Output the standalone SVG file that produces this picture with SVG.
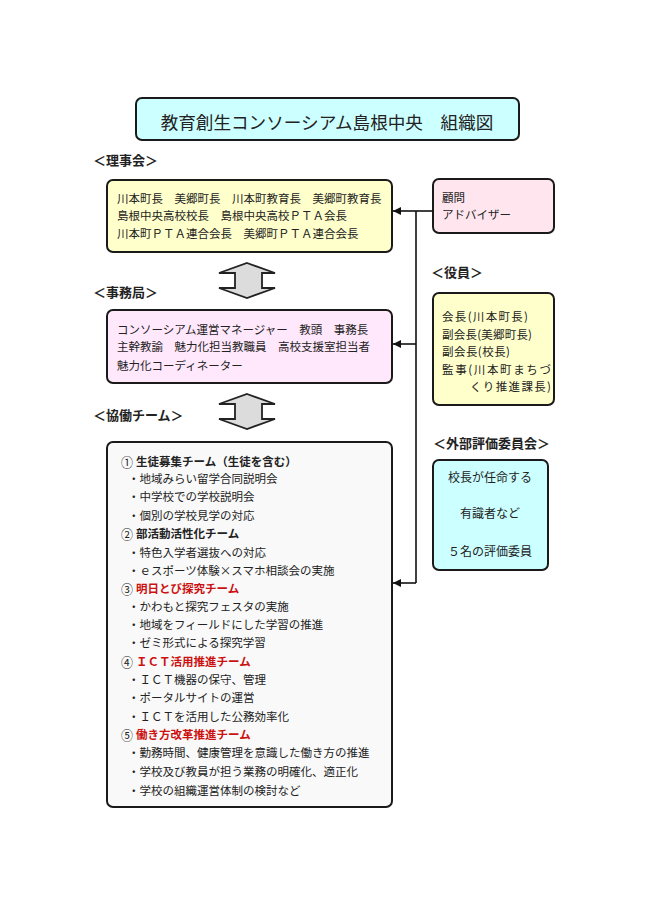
<svg xmlns="http://www.w3.org/2000/svg" width="650" height="918" viewBox="0 0 650 918">
<style>
text{font-family:"Noto Sans CJK JP","Noto Sans",sans-serif;fill:#222}
.box{stroke:#1a1a1a;stroke-width:2}
.t{font-size:11.5px}
.h{font-size:13px;font-weight:bold}
.b{font-size:11.5px;font-weight:bold}
.n{font-size:13px}
.r{fill:#cc1111}
.c{font-size:12px;text-anchor:middle}
.conn{stroke:#111;stroke-width:1.6;fill:none}
.dbl{fill:#dcdcdc;stroke:#222;stroke-width:1.8;stroke-linejoin:miter}
</style>
<defs>
<marker id="ah" viewBox="0 0 10 10" refX="10" refY="5" markerWidth="10" markerHeight="8" markerUnits="userSpaceOnUse" orient="auto">
<path d="M0,0 L10,5 L0,10 z" fill="#111"/>
</marker>
</defs>
<rect width="650" height="918" fill="#fff"/>

<g id="title">
<rect class="box" x="136" y="98" width="383" height="42" rx="6" fill="#ccffff"/>
<text x="327" y="129" font-size="17.6" text-anchor="middle">教育創生コンソーシアム島根中央　組織図</text>
</g>

<g id="rijikai">
<text class="h" x="93" y="165">＜理事会＞</text>
<rect class="box" x="107" y="180" width="285" height="72" rx="6" fill="#ffffcc"/>
<text class="t" x="117" y="203">川本町長　美郷町長　川本町教育長　美郷町教育長</text>
<text class="t" x="117" y="220">島根中央高校校長　島根中央高校ＰＴＡ会長</text>
<text class="t" x="117" y="238">川本町ＰＴＡ連合会長　美郷町ＰＴＡ連合会長</text>
</g>

<g id="arrow1">
<polygon class="dbl" points="247,263 275,273 262,273 262,288 275,288 247,298 219,288 235,288 235,273 219,273"/>
</g>

<g id="jimukyoku">
<text class="h" x="93" y="297">＜事務局＞</text>
<rect class="box" x="107" y="310" width="285" height="73" rx="6" fill="#ffe8fc"/>
<text class="t" x="117" y="334">コンソーシアム運営マネージャー　教頭　事務長</text>
<text class="t" x="117" y="351">主幹教諭　魅力化担当教職員　高校支援室担当者</text>
<text class="t" x="117" y="370">魅力化コーディネーター</text>
</g>

<g id="arrow2">
<polygon class="dbl" points="247,394 275,404 262,404 262,419 275,419 247,429 219,419 235,419 235,404 219,404"/>
</g>

<g id="kyodo">
<text class="h" x="93" y="420">＜協働チーム＞</text>
<rect class="box" x="107" y="442" width="285" height="365" rx="6" fill="#f9f9f9"/>
<text class="n" x="121" y="467" textLength="12" lengthAdjust="spacingAndGlyphs">①</text><text class="b" x="136" y="466">生徒募集チーム（生徒を含む）</text>
<text class="t" x="128" y="483">・地域みらい留学合同説明会</text>
<text class="t" x="128" y="501">・中学校での学校説明会</text>
<text class="t" x="128" y="520">・個別の学校見学の対応</text>
<text class="n" x="121" y="539" textLength="12" lengthAdjust="spacingAndGlyphs">②</text><text class="b" x="136" y="538">部活動活性化チーム</text>
<text class="t" x="128" y="557">・特色入学者選抜への対応</text>
<text class="t" x="128" y="575">・ｅスポーツ体験×スマホ相談会の実施</text>
<text class="n" x="121" y="594" textLength="12" lengthAdjust="spacingAndGlyphs">③</text><text class="b r" x="136" y="593">明日とび探究チーム</text>
<text class="t" x="128" y="611">・かわもと探究フェスタの実施</text>
<text class="t" x="128" y="629">・地域をフィールドにした学習の推進</text>
<text class="t" x="128" y="647">・ゼミ形式による探究学習</text>
<text class="n" x="121" y="667" textLength="12" lengthAdjust="spacingAndGlyphs">④</text><text class="b r" x="136" y="666">ＩＣＴ活用推進チーム</text>
<text class="t" x="128" y="684">・ＩＣＴ機器の保守、管理</text>
<text class="t" x="128" y="702">・ポータルサイトの運営</text>
<text class="t" x="128" y="721">・ＩＣＴを活用した公務効率化</text>
<text class="n" x="121" y="740" textLength="12" lengthAdjust="spacingAndGlyphs">⑤</text><text class="b r" x="136" y="739">働き方改革推進チーム</text>
<text class="t" x="128" y="757">・勤務時間、健康管理を意識した働き方の推進</text>
<text class="t" x="128" y="776">・学校及び教員が担う業務の明確化、適正化</text>
<text class="t" x="128" y="795">・学校の組織運営体制の検討など</text>
</g>

<g id="komon">
<rect class="box" x="433" y="179" width="121" height="54" rx="6" fill="#ffe6ee"/>
<text class="t" x="442" y="202">顧問</text>
<text class="t" x="442" y="219">アドバイザー</text>
</g>

<g id="yakuin">
<text class="h" x="431" y="277">＜役員＞</text>
<rect class="box" x="433" y="293" width="121" height="112" rx="6" fill="#ffffcc"/>
<text class="t" x="442" y="321" textLength="86" lengthAdjust="spacing">会長(川本町長)</text>
<text class="t" x="442" y="339" textLength="90" lengthAdjust="spacing">副会長(美郷町長)</text>
<text class="t" x="442" y="356" textLength="68" lengthAdjust="spacing">副会長(校長)</text>
<text class="t" x="442" y="374" textLength="109" lengthAdjust="spacing">監事(川本町まちづ</text>
<text class="t" x="470" y="391" textLength="81" lengthAdjust="spacing">くり推進課長)</text>
</g>

<g id="gaibu">
<text class="h" x="433" y="448">＜外部評価委員会＞</text>
<rect class="box" x="433" y="460" width="115" height="110" rx="6" fill="#ccffff"/>
<text class="c" x="490" y="482">校長が任命する</text>
<text class="c" x="490" y="518">有識者など</text>
<text class="c" x="490" y="556">５名の評価委員</text>
</g>

<g id="connectors">
<line class="conn" x1="433" y1="211" x2="416" y2="211"/>
<line class="conn" x1="416" y1="211" x2="416" y2="583"/>
<line class="conn" x1="416" y1="211" x2="393" y2="211" marker-end="url(#ah)"/>
<line class="conn" x1="416" y1="344" x2="393" y2="344" marker-end="url(#ah)"/>
<line class="conn" x1="416" y1="583" x2="393" y2="583" marker-end="url(#ah)"/>
</g>
</svg>
